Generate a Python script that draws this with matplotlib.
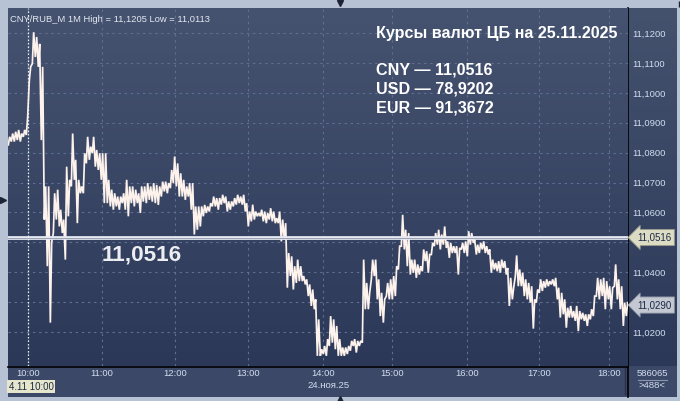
import numpy as np
import matplotlib
matplotlib.use("Agg")
import matplotlib.pyplot as plt
from matplotlib.patches import Rectangle
import matplotlib.transforms as mtransforms

plt.rcParams['font.family'] = ['Liberation Sans', 'DejaVu Sans']

# ---- data: 1-minute bars (low / high) ----
bar_low = [
    11.0826, 11.0837, 11.0837, 11.0842, 11.0837, 11.0853, 11.0859, 11.1042, 11.1098, 11.1120,
    11.1087, 11.0842, 11.0576, 11.0420, 11.0231, 11.0531, 11.0576, 11.0553, 11.0531, 11.0442,
    11.0587, 11.0687, 11.0709, 11.0564, 11.0664, 11.0664, 11.0764, 11.0776, 11.0798, 11.0753,
    11.0742, 11.0709, 11.0631, 11.0631,
    11.0620, 11.0609, 11.0620, 11.0609, 11.0631, 11.0609, 11.0587, 11.0631, 11.0620, 11.0631,
    11.0598, 11.0636, 11.0631, 11.0642, 11.0636, 11.0631, 11.0625, 11.0653, 11.0670, 11.0664,
    11.0681, 11.0698, 11.0687, 11.0653, 11.0653, 11.0642, 11.0653, 11.0609, 11.0526, 11.0542,
    11.0553, 11.0587, 11.0598,
    11.0603, 11.0620, 11.0620, 11.0609, 11.0626, 11.0631, 11.0603, 11.0609, 11.0620, 11.0626,
    11.0631, 11.0626, 11.0603, 11.0553, 11.0570, 11.0576, 11.0587, 11.0587, 11.0570, 11.0564,
    11.0576, 11.0570, 11.0564, 11.0564, 11.0503, 11.0509, 11.0348, 11.0387, 11.0342, 11.0364,
    11.0370, 11.0370, 11.0359, 11.0320,
    11.0287, 11.0276, 11.0120, 11.0120, 11.0126, 11.0120, 11.0153, 11.0164, 11.0142, 11.0120,
    11.0120, 11.0120, 11.0126, 11.0137, 11.0153, 11.0131, 11.0153, 11.0164, 11.0276, 11.0276,
    11.0376, 11.0387, 11.0309, 11.0253, 11.0231, 11.0320, 11.0309, 11.0309, 11.0320, 11.0409,
    11.0487, 11.0476, 11.0420,
    11.0392, 11.0398, 11.0381, 11.0392, 11.0403, 11.0437, 11.0398, 11.0459, 11.0487, 11.0492,
    11.0476, 11.0492, 11.0481, 11.0448, 11.0464, 11.0464, 11.0392, 11.0476, 11.0464, 11.0453,
    11.0492, 11.0498, 11.0459, 11.0464, 11.0476, 11.0464, 11.0459, 11.0398, 11.0409, 11.0403,
    11.0398, 11.0414, 11.0392, 11.0287, 11.0309,
    11.0387, 11.0353, 11.0353, 11.0320, 11.0309, 11.0298, 11.0211, 11.0298, 11.0331, 11.0337,
    11.0348, 11.0353, 11.0359, 11.0353, 11.0309, 11.0248, 11.0259, 11.0214, 11.0248, 11.0248,
    11.0237, 11.0203, 11.0242, 11.0237, 11.0220, 11.0242, 11.0253, 11.0320, 11.0309, 11.0320,
    11.0276, 11.0309, 11.0276, 11.0353, 11.0309, 11.0276, 11.0220, 11.0253,
]
bar_high = [
    11.0853, 11.0864, 11.0870, 11.0876, 11.0864, 11.0876, 11.0920, 11.1087, 11.1203, 11.1187,
    11.1164, 11.1087, 11.0687, 11.0687, 11.0500, 11.0664, 11.0676, 11.0609, 11.0576, 11.0753,
    11.0709, 11.0864, 11.0776, 11.0709, 11.0687, 11.0798, 11.0853, 11.0820, 11.0853, 11.0809,
    11.0798, 11.0798, 11.0798, 11.0709,
    11.0676, 11.0664, 11.0653, 11.0653, 11.0664, 11.0709, 11.0687, 11.0687, 11.0676, 11.0664,
    11.0687, 11.0687, 11.0698, 11.0687, 11.0698, 11.0692, 11.0687, 11.0703, 11.0703, 11.0698,
    11.0742, 11.0787, 11.0764, 11.0731, 11.0709, 11.0687, 11.0698, 11.0698, 11.0620, 11.0620,
    11.0620, 11.0625, 11.0620,
    11.0631, 11.0653, 11.0648, 11.0648, 11.0659, 11.0653, 11.0637, 11.0637, 11.0648, 11.0659,
    11.0653, 11.0659, 11.0631, 11.0603, 11.0626, 11.0603, 11.0598, 11.0609, 11.0603, 11.0598,
    11.0614, 11.0603, 11.0581, 11.0603, 11.0576, 11.0564, 11.0464, 11.0453, 11.0420, 11.0442,
    11.0420, 11.0387, 11.0376, 11.0359,
    11.0342, 11.0309, 11.0242, 11.0142, 11.0153, 11.0176, 11.0253, 11.0242, 11.0220, 11.0176,
    11.0148, 11.0148, 11.0153, 11.0170, 11.0176, 11.0170, 11.0170, 11.0442, 11.0364, 11.0331,
    11.0442, 11.0442, 11.0376, 11.0331, 11.0309, 11.0364, 11.0376, 11.0387, 11.0420, 11.0487,
    11.0592, 11.0542, 11.0531,
    11.0442, 11.0442, 11.0426, 11.0420, 11.0476, 11.0470, 11.0459, 11.0498, 11.0531, 11.0542,
    11.0526, 11.0553, 11.0503, 11.0498, 11.0487, 11.0487, 11.0481, 11.0498, 11.0503, 11.0537,
    11.0531, 11.0509, 11.0492, 11.0498, 11.0503, 11.0487, 11.0476, 11.0442, 11.0431, 11.0437,
    11.0442, 11.0437, 11.0414, 11.0381, 11.0348,
    11.0456, 11.0409, 11.0398, 11.0376, 11.0364, 11.0353, 11.0309, 11.0342, 11.0376, 11.0370,
    11.0376, 11.0370, 11.0376, 11.0381, 11.0348, 11.0331, 11.0309, 11.0281, 11.0287, 11.0270,
    11.0287, 11.0270, 11.0264, 11.0259, 11.0259, 11.0276, 11.0320, 11.0381, 11.0376, 11.0381,
    11.0370, 11.0353, 11.0348, 11.0426, 11.0376, 11.0353, 11.0298, 11.0298,
]

y_ticks = [11.02, 11.03, 11.04, 11.05, 11.06, 11.07, 11.08, 11.09, 11.10, 11.11, 11.12]
time_labels = ["10:00", "11:00", "12:00", "13:00", "14:00", "15:00", "16:00", "17:00", "18:00"]
time_bar_index = [6.33, 30.9, 55.33, 79.67, 104.67, 127.67, 152.67, 176.67, 200.0]

cb_level = 11.0516
last_price = 11.0290
header = "CNY/RUB_M 1M High = 11,1205 Low = 11,0113"
title = "Курсы валют ЦБ на 25.11.2025"
rates = [("CNY", "11,0516"), ("USD", "78,9202"), ("EUR", "91,3672")]
date_label = "24.ноя.25"
cursor_label = "4.11 10:00"
corner_top, corner_bottom = "586065", ">488<"

def fmt(v):
    return f"{v:.4f}".replace(".", ",")

W, H = 680, 401
fig = plt.figure(figsize=(W / 100, H / 100), dpi=100, facecolor="#b7c3d5")

# full-figure background axes in pixel units for the terminal panels
bg = fig.add_axes([0, 0, 1, 1])
bg.set_xlim(0, W)
bg.set_ylim(H, 0)
bg.axis("off")

def grad(ax_, extent, top, bottom):
    g = np.linspace(0, 1, 256)[:, None, None]
    top = np.array(top) / 255.0
    bottom = np.array(bottom) / 255.0
    img = top * (1 - g) + bottom * g
    img = np.repeat(img, 2, axis=1)
    ax_.imshow(img, extent=extent, aspect="auto", zorder=0, interpolation="bilinear")

# right price panel and bottom time panel
grad(bg, (628, 677, 366, 8), (68, 82, 110), (44, 56, 88))
bg.add_patch(Rectangle((8, 366), 669, 31, fc="#3c4867", ec="none", zorder=1))
bg.plot([625, 625], [368, 394], color="#26304a", lw=1, zorder=2)
bg.plot([638, 667], [379.5, 379.5], color="#8a96ae", lw=0.8, zorder=2)
bg.plot([628, 628], [8, 397], color="black", lw=1.2, zorder=3)
bg.plot([8, 628], [366.5, 366.5], color="black", lw=1.2, zorder=3)
# little frame triangles
bg.plot([340], [2.5], marker="v", ms=5, color="#1c2435", zorder=3)
bg.plot([340], [398.5], marker="^", ms=5, color="#1c2435", zorder=3)
bg.plot([2.5], [200], marker=">", ms=4, color="#1c2435", zorder=3)
bg.plot([679], [4], marker="|", ms=4, color="#1c2435", zorder=3)

# main price axes
ax = fig.add_axes([8 / W, (H - 366) / H, 620 / W, 358 / H])
ax.set_xlim(-1 / 3, 206 + 1 / 3)
ax.set_ylim(11.0086, 11.1284)
grad(ax, (-1 / 3, 206 + 1 / 3, 11.0086, 11.1284), (70, 83, 112), (44, 56, 88))
for s in ax.spines.values():
    s.set_visible(False)

# labels at the tagged levels are hidden behind the price tags in the terminal
hidden = {round(cb_level, 2), round(last_price, 2)}
ax.set_yticks(y_ticks)
ax.set_yticklabels(["" if round(v, 2) in hidden else fmt(v) for v in y_ticks])
ax.yaxis.tick_right()
ax.set_xticks(time_bar_index)
ax.set_xticklabels(time_labels)
ax.tick_params(axis="both", length=0, labelsize=6.8, labelcolor="#d2ddf0")
ax.tick_params(axis="y", pad=3.0)
ax.tick_params(axis="x", pad=2.5)
ax.grid(True, color="#5f6f90", lw=0.8, ls=(0, (2.2, 3.3)), zorder=1)

# bars drawn as a dense zig-zag through low/high of each bar
lo = np.array(bar_low)
hi = np.array(bar_high)
idx = np.arange(len(lo))
xs = np.column_stack([idx - 0.22, idx + 0.22]).ravel()
ys = np.column_stack([lo, hi]).ravel()
ax.plot(xs, ys, color="#fdf2ec", lw=1.25, zorder=4, solid_joinstyle="miter")

# CB level double line
ax.axhline(cb_level, color="#e6e9f0", lw=2.7, zorder=5)
ax.axhline(cb_level, color="#9aa3b6", lw=0.7, zorder=6)
# cursor dotted line
ax.axvline(time_bar_index[0], color="#e8ecf4", lw=0.9, ls=(0, (1.2, 1.6)), zorder=3)

tr = mtransforms.blended_transform_factory(ax.transAxes, ax.transData)

# texts
ax.text(0.004, 0.98, header, transform=ax.transAxes, ha="left", va="top",
        fontsize=6.75, color="#e4e9f2", zorder=7)
ax.text(0.593, 0.928, title, transform=ax.transAxes, ha="left", va="center",
        fontsize=11.6, fontweight="bold", color="white", zorder=7)
for k, (cur, val) in enumerate(rates):
    ax.text(0.593, 0.826 - k * 0.053, f"{cur} — {val}", transform=ax.transAxes,
            ha="left", va="center", fontsize=11.6, fontweight="bold", color="white", zorder=7)
ax.text(0.1516, cb_level - 0.006, fmt(cb_level), transform=tr, ha="left", va="center",
        fontsize=16.2, fontweight="bold", color="#eceef2", zorder=7)

# price tags on the right scale
for lvl, fc, ec in [(cb_level, "#dcdcc4", "#9a9a88"), (last_price, "#c3c8d2", "#8890a0")]:
    ax.text(1.0 + 9 / 620, lvl, fmt(lvl), transform=tr, ha="left", va="center",
            fontsize=7.0, color="#1e2a44", zorder=10, clip_on=False,
            bbox=dict(boxstyle="larrow,pad=0.32", fc=fc, ec=ec, lw=0.6))

# bottom panel texts
bg.text(329, 385, date_label, ha="center", va="center", fontsize=6.8, color="#d2ddf0", zorder=4)
bg.text(31, 386.5, cursor_label, ha="center", va="center", fontsize=7.0, color="#1e2a44", zorder=4,
        bbox=dict(boxstyle="square,pad=0.18", fc="#e6e6cc", ec="none"))
bg.text(652, 373, corner_top, ha="center", va="center", fontsize=6.8, color="#d2ddf0", zorder=4)
bg.text(652, 386, corner_bottom, ha="center", va="center", fontsize=6.8, color="#d2ddf0", zorder=4)

fig.savefig("out.png", dpi=100, facecolor=fig.get_facecolor())
